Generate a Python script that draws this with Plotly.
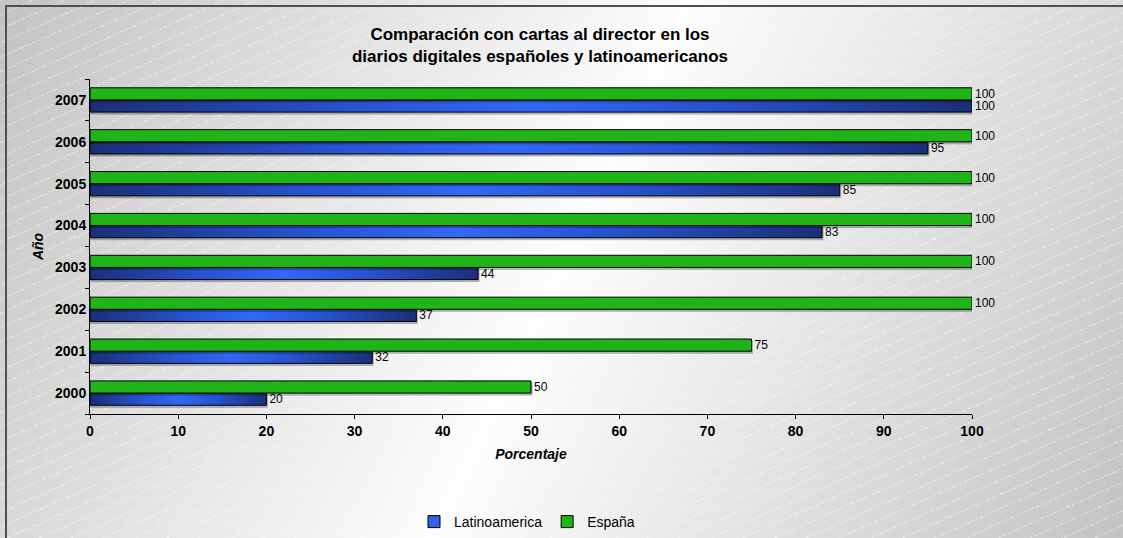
import base64
import plotly.graph_objects as go

# Data
years = ["2000", "2001", "2002", "2003", "2004", "2005", "2006", "2007"]
latinoamerica = [20, 32, 37, 44, 83, 85, 95, 100]
espana = [50, 75, 100, 100, 100, 100, 100, 100]

FONT = "Arial, 'Liberation Sans', sans-serif"
W, H = 1123, 538
L, R, T, B = 90, 151, 79, 124
PW, PH = W - L - R, H - T - B
BW, BH = W + 30, H + 30  # background drawn slightly past the page edges

# Diagonal grey-white-grey background with faint dashed hatching
bg_svg = f"""<svg xmlns='http://www.w3.org/2000/svg' width='{BW}' height='{BH}'>
<defs>
<linearGradient id='g' gradientUnits='userSpaceOnUse' x1='0' y1='0' x2='{W}' y2='{H}'>
<stop offset='0' stop-color='#c3c3c3'/>
<stop offset='0.5' stop-color='#fdfdfd'/>
<stop offset='1' stop-color='#c3c3c3'/>
</linearGradient>
<pattern id='p' width='14' height='13' patternUnits='userSpaceOnUse' patternTransform='rotate(-24)'>
<line x1='0' y1='0.5' x2='14' y2='0.5' stroke='#ffffff' stroke-width='1' stroke-dasharray='2 2' stroke-opacity='0.55'/>
</pattern>
</defs>
<rect width='{BW}' height='{BH}' fill='url(#g)'/>
<rect width='{BW}' height='{BH}' fill='url(#p)'/>
</svg>"""
bg_uri = "data:image/svg+xml;base64," + base64.b64encode(bg_svg.encode()).decode()

label_font = dict(family=FONT, size=12, color="#000000")

fig = go.Figure()
fig.add_trace(go.Bar(
    y=years, x=latinoamerica, orientation="h", name="Latinoamerica",
    marker=dict(color="#2f62e6", line=dict(color="#000000", width=1)),
    text=latinoamerica, textposition="outside", cliponaxis=False,
    constraintext="none",
    textfont=label_font, outsidetextfont=label_font, insidetextfont=label_font,
))
fig.add_trace(go.Bar(
    y=years, x=espana, orientation="h", name="España",
    marker=dict(color="#1fb418", line=dict(color="#000000", width=1)),
    text=espana, textposition="outside", cliponaxis=False,
    constraintext="none",
    textfont=label_font, outsidetextfont=label_font, insidetextfont=label_font,
))

px = lambda p: (p - L) / PW
py = lambda p: (H - B - p) / PH

frame = dict(color="#505050", width=2)

fig.update_layout(
    width=W, height=H,
    margin=dict(l=L, r=R, t=T, b=B),
    barmode="group", bargap=0.42, bargroupgap=0,
    paper_bgcolor="#ffffff", plot_bgcolor="rgba(0,0,0,0)",
    font=dict(family=FONT, color="#000000"),
    title=dict(
        text="Comparación con cartas al director en los<br>diarios digitales españoles y latinoamericanos",
        font=dict(family=FONT, size=17, color="#000000", weight="bold"),
        x=540 / W, xanchor="center", xref="container",
        y=1 - 40 / H, yanchor="middle", yref="container",
    ),
    xaxis=dict(
        range=[0, 100], dtick=10, showgrid=False, zeroline=False,
        showline=True, linecolor="#000000", linewidth=1,
        ticks="outside", ticklen=4, tickcolor="#000000",
        tickfont=dict(family=FONT, size=14, color="#000000", weight="bold"),
        title=dict(text="<i>Porcentaje</i>", standoff=11,
                   font=dict(family=FONT, size=14, color="#000000", weight="bold")),
    ),
    yaxis=dict(
        type="category", showgrid=False, zeroline=False,
        showline=True, linecolor="#000000", linewidth=1,
        ticks="outside", ticklen=4, tickcolor="#000000", tickson="boundaries",
        tickfont=dict(family=FONT, size=14, color="#000000", weight="bold"),
        title=dict(text="<i>Año</i>", standoff=8,
                   font=dict(family=FONT, size=14, color="#000000", weight="bold")),
    ),
    legend=dict(
        orientation="h", x=527 / W, xanchor="center", xref="container",
        y=1 - 522 / H, yanchor="middle", yref="container",
        font=dict(family=FONT, size=14, color="#000000"),
        bgcolor="rgba(0,0,0,0)", itemwidth=30, traceorder="normal",
    ),
    images=[dict(
        source=bg_uri, xref="paper", yref="paper",
        x=px(0), y=py(0), sizex=BW / PW, sizey=BH / PH,
        xanchor="left", yanchor="top", sizing="stretch", layer="below",
    )],
    shapes=[
        # chart-area frame: left and top edges
        dict(type="line", xref="paper", yref="paper",
             x0=px(6), x1=px(6), y0=py(H + 5), y1=py(6), line=frame, layer="below"),
        dict(type="line", xref="paper", yref="paper",
             x0=px(5), x1=px(W + 5), y0=py(6), y1=py(6), line=frame, layer="below"),
    ],
)

# Shade the Latinoamerica bars with a dark-light-dark gradient along each bar
post = """
var gd = document.getElementById('{plot_id}');
function shadeBars(){
  var svg = gd.querySelector('.main-svg');
  if (!svg) return;
  var ns = 'http://www.w3.org/2000/svg';
  if (!document.getElementById('latGrad')) {
    var defs = document.createElementNS(ns, 'defs');
    var lg = document.createElementNS(ns, 'linearGradient');
    lg.setAttribute('id', 'latGrad');
    lg.setAttribute('x1', '0'); lg.setAttribute('y1', '0');
    lg.setAttribute('x2', '1'); lg.setAttribute('y2', '0');
    [['0', '#1b2f78'], ['0.3', '#2853d2'], ['0.5', '#3168f6'],
     ['0.7', '#2853d2'], ['1', '#1b2f78']].forEach(function(s){
      var st = document.createElementNS(ns, 'stop');
      st.setAttribute('offset', s[0]); st.setAttribute('stop-color', s[1]);
      lg.appendChild(st);
    });
    defs.appendChild(lg);
    svg.insertBefore(defs, svg.firstChild);
  }
  var traces = gd.querySelectorAll('.barlayer .trace');
  traces.forEach(function(tr, i){
    tr.querySelectorAll('.point path').forEach(function(p){
      if (i === 0) p.style.fill = 'url(#latGrad)';
      p.style.filter = 'drop-shadow(1px 2px 0px rgba(0,0,0,0.28))';
    });
  });
}
shadeBars();
gd.on('plotly_afterplot', shadeBars);
"""

fig.write_html("out.html", post_script=post)
